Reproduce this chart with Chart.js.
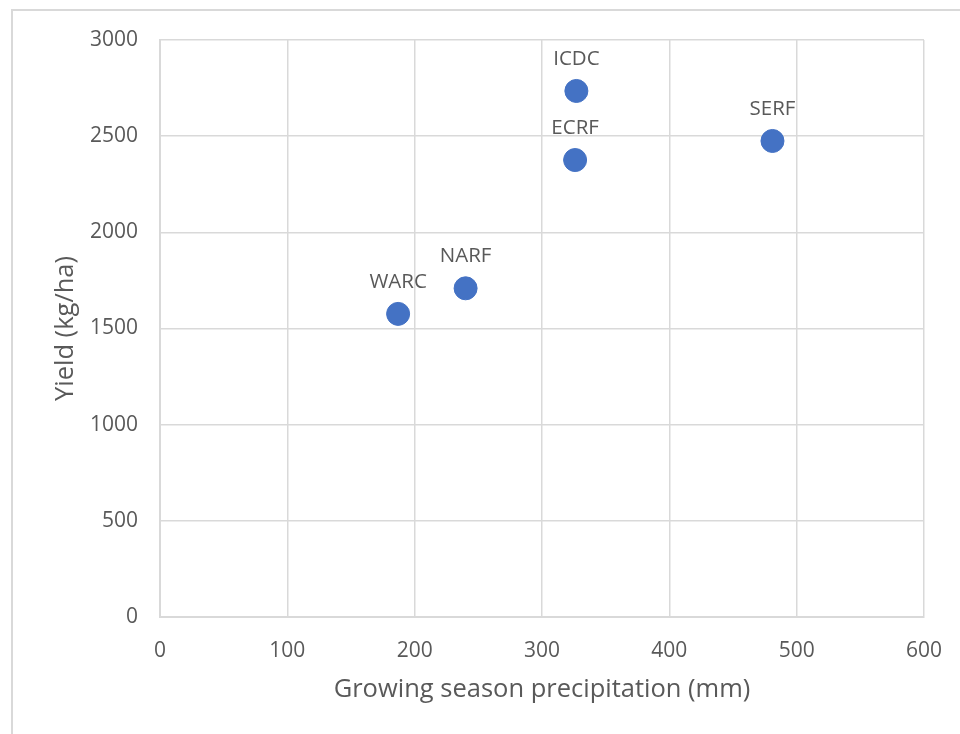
<!DOCTYPE html>
<html>
<head>
<meta charset="utf-8">
<script src="https://cdn.jsdelivr.net/npm/chart.js@4/dist/chart.umd.min.js"></script>
<style>
  html, body { margin: 0; padding: 0; background: #fff; }
  canvas { display: block; }
</style>
</head>
<body>
<canvas id="grafico" width="960" height="734"></canvas>
<script>
// dados
const sites = ["ICDC", "ECRF", "SERF", "NARF", "WARC"];
const precipitation = [327, 326, 481, 240, 187];   // mm
const yieldKgHa = [2735, 2376, 2475, 1709, 1576]; // kg/ha

const xTicks = [0, 100, 200, 300, 400, 500, 600];
const yTicks = [0, 500, 1000, 1500, 2000, 2500, 3000];

const textColor = "#595959";
const gridColor = "#d9d9d9";
const fontFamily = "'Open Sans', 'Liberation Sans', sans-serif";

// moldura externa (só aparece à esquerda e no topo)
const frame = {
  id: "frame",
  beforeDraw(chart) {
    const ctx = chart.ctx;
    ctx.save();
    ctx.fillStyle = "#fff";
    ctx.fillRect(0, 0, chart.width, chart.height);
    ctx.strokeStyle = gridColor;
    ctx.lineWidth = 2;
    ctx.strokeRect(12, 10, chart.width + 50, chart.height + 50);
    ctx.restore();
  }
};

// rótulos dos pontos acima de cada marcador
const pointLabels = {
  id: "pointLabels",
  afterDatasetsDraw(chart) {
    const ctx = chart.ctx;
    const meta = chart.getDatasetMeta(0);
    ctx.save();
    ctx.fillStyle = textColor;
    ctx.font = "20.5px " + fontFamily;
    ctx.textAlign = "center";
    ctx.textBaseline = "middle";
    meta.data.forEach((el, i) => {
      ctx.fillText(sites[i], el.x, el.y - 32);
    });
    ctx.restore();
  }
};

const ctx = document.getElementById("grafico").getContext("2d");
new Chart(ctx, {
  type: "scatter",
  data: {
    datasets: [{
      label: "Yield",
      data: precipitation.map((p, i) => ({ x: p, y: yieldKgHa[i] })),
      backgroundColor: "#4472C4",
      borderColor: "#4472C4",
      pointRadius: 11.5,
      pointHoverRadius: 11.5
    }]
  },
  options: {
    responsive: false,
    animation: false,
    devicePixelRatio: 1,
    layout: { padding: { left: 0, top: 40, right: 36, bottom: 0 } },
    plugins: {
      legend: { display: false },
      tooltip: { enabled: false }
    },
    scales: {
      x: {
        type: "linear",
        min: xTicks[0],
        max: xTicks[xTicks.length - 1],
        afterFit: (scale) => {
          scale.height = 117;
          scale.paddingLeft = 0;
          scale.paddingRight = 0;
        },
        afterBuildTicks: (scale) => { scale.ticks = xTicks.map(v => ({ value: v })); },
        grid: { color: gridColor, lineWidth: 1.5, drawTicks: false },
        border: { color: gridColor, width: 2 },
        ticks: {
          color: textColor,
          font: { family: fontFamily, size: 21 },
          padding: 21,
          callback: (v) => String(v)
        },
        title: {
          display: true,
          text: "Growing season precipitation (mm)",
          color: textColor,
          font: { family: fontFamily, size: 25.5 },
          padding: { top: 0, bottom: 28.5 }
        }
      },
      y: {
        type: "linear",
        min: yTicks[0],
        max: yTicks[yTicks.length - 1],
        afterFit: (scale) => {
          scale.width = 160;
          scale.paddingTop = 0;
          scale.paddingBottom = 0;
        },
        afterBuildTicks: (scale) => { scale.ticks = yTicks.map(v => ({ value: v })); },
        grid: { color: gridColor, lineWidth: 1.5, drawTicks: false },
        border: { color: gridColor, width: 2 },
        ticks: {
          color: textColor,
          font: { family: fontFamily, size: 21 },
          padding: 22,
          callback: (v) => String(v)
        },
        title: {
          display: true,
          text: "Yield (kg/ha)",
          color: textColor,
          font: { family: fontFamily, size: 25.5 },
          padding: { top: 50, bottom: 0 }
        }
      }
    }
  },
  plugins: [frame, pointLabels]
});
</script>
</body>
</html>
